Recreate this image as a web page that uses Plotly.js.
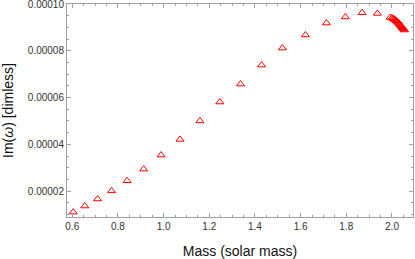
<!DOCTYPE html>
<html><head><meta charset="utf-8">
<script src="https://cdn.plot.ly/plotly-3.0.1.min.js"></script>
<style>html,body{margin:0;padding:0;background:#fff}#c{width:415px;height:259px}</style>
</head><body><div id="c"></div>
<script>
const mass = [0.604,0.655,0.711,0.772,0.840,0.913,0.989,1.072,1.159,1.246,1.337,1.429,1.520,1.621,1.713,1.796,1.869,1.936,1.992,
  2.000,2.005,2.010,2.014,2.018,2.022,2.026,2.030,2.033,2.036,2.040,2.043,2.046,2.049,2.052,2.055];
const imOmega = [0.0000110,0.0000136,0.0000166,0.0000201,0.0000244,0.0000294,0.0000354,0.0000421,0.0000500,0.0000581,0.0000658,0.0000739,0.0000812,0.0000868,0.0000919,0.0000945,0.0000963,0.0000960,0.0000943,
  0.0000941,0.0000938,0.0000935,0.0000932,0.0000929,0.0000926,0.0000922,0.0000918,0.0000915,0.0000911,0.0000907,0.0000903,0.0000899,0.0000895,0.0000892,0.0000889];
const xTitle = 'Mass (solar mass)';
const yTitle = 'Im(<i>ω</i>) [dimless]';

const axisCommon = {
  showline:true, mirror:'allticks', linecolor:'#a0a0a0', linewidth:1,
  ticks:'inside', ticklen:4, tickcolor:'#a0a0a0', showgrid:false, zeroline:false,
  ticklabeloverflow:'allow',
  tickfont:{family:'Liberation Sans, Arial, sans-serif', size:10, color:'#333'}
};
Plotly.newPlot('c', [{
  x: mass, y: imOmega, type:'scatter', mode:'markers',
  marker:{symbol:'triangle-up-open', size:7, color:'#ff0000', line:{width:1, color:'#ff0000'}}
}], {
  width:415, height:259,
  margin:{l:67, r:2, t:4, b:42},
  paper_bgcolor:'#fff', plot_bgcolor:'#fff', showlegend:false,
  xaxis: Object.assign({}, axisCommon, {
    range:[0.577, 2.092], dtick:0.2, tick0:0.6, tickformat:'.1f',
    minor:{dtick:0.05, tick0:0.6, ticks:'inside', ticklen:2, tickcolor:'#a0a0a0'},
    title:{text:xTitle, font:{family:'Liberation Sans, Arial, sans-serif', size:14, color:'#111'}, standoff:15}
  }),
  yaxis: Object.assign({}, axisCommon, {
    range:[0.0000089, 0.00010005], dtick:0.00002, tick0:0, tickformat:'.5f',
    minor:{dtick:0.000005, tick0:0, ticks:'inside', ticklen:2, tickcolor:'#a0a0a0'},
    title:{text:yTitle, font:{family:'Liberation Sans, Arial, sans-serif', size:14, color:'#111'}, standoff:14}
  })
}, {staticPlot:true, displayModeBar:false});
</script></body></html>
